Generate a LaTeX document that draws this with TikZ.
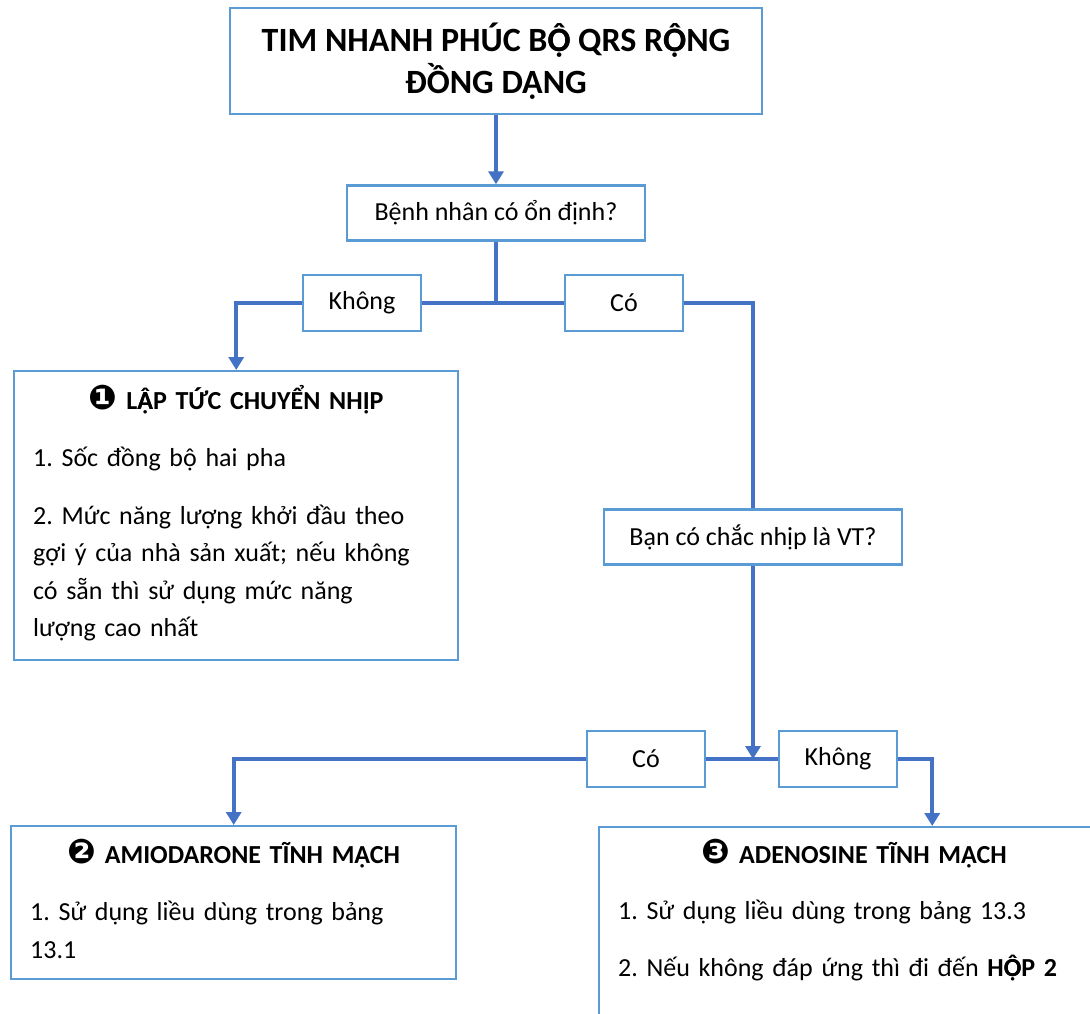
\documentclass[tikz,border=0pt]{standalone}
\usepackage{fontspec}
\setmainfont{Carlito}
\newfontfamily\dingfont{DejaVu Sans}
\usetikzlibrary{arrows.meta}
\usetikzlibrary{calc}
\tikzset{>={Triangle[width=7.5pt,length=6.5pt]}}
\definecolor{linkblue}{HTML}{4472C4}
\definecolor{edgeblue}{HTML}{5B9BD5}
% bold caps with circumflex and dot below
\newcommand\Ocircdot{\makebox[0pt][l]{Ọ}Ô}
\newcommand\Acircdot{\makebox[0pt][l]{Ạ}Â}
\newcommand\numdot[1]{{\dingfont\fontsize{17}{17}\selectfont #1}}
\tikzset{
  conn/.style={draw=linkblue, line width=2pt},
  qbox/.style={draw=edgeblue, line width=1.2pt, fill=white, minimum width=149pt, minimum height=27.5pt, font=\fontsize{13}{15}\selectfont},
  ansbox/.style={qbox, minimum width=59pt, minimum height=28pt},
  panel/.style={draw=edgeblue, line width=1.2pt, anchor=north west, align=left, inner xsep=9.5pt, font=\fontsize{13}{18.75}\selectfont\frenchspacing},
}

\begin{document}
\begin{tikzpicture}[x=0.5pt, y=-0.5pt]

\useasboundingbox (0,0) rectangle (1090,1013);

\node[draw=edgeblue, line width=1.2pt, minimum width=266pt, minimum height=53pt, align=center,
  font=\fontsize{17}{21}\selectfont\bfseries] (top) at (496,61) {TIM NHANH PHÚC B\Ocircdot{} QRS R\Ocircdot{}NG\\ĐỒNG DẠNG};

\node[qbox] (q1) at (496,213) {Bệnh nhân có ổn định?};
\node[ansbox] (no1) at (362,303) {Không};
\node[ansbox] (yes1) at (624,303) {Có};

\node[panel, text width=203pt, minimum height=144.5pt] (box1) at (13,370) {%
  \makebox[\hsize]{\bfseries\numdot{❶} L\Acircdot{}P TỨC CHUYỂN NHỊP}\\[10pt]
  1. Sốc đồng bộ hai pha\\[10pt]
  2. Mức năng lượng khởi đầu theo\\
  gợi ý của nhà sản xuất; nếu không\\
  có sẵn thì sử dụng mức năng\\
  lượng cao nhất\rule[-5pt]{0pt}{0pt}};

\node[qbox] (q2) at (753,537) {Bạn có chắc nhịp là VT?};
\node[ansbox] (yes2) at (646,759) {Có};
\node[ansbox] (no2) at (838,759) {Không};

\node[panel, text width=203.5pt, minimum height=76.5pt] (box2) at (10,825) {%
  \makebox[\hsize]{\bfseries\numdot{❷} AMIODARONE TĨNH MẠCH}\\[10pt]
  1. Sử dụng liều dùng trong bảng\\
  13.1\rule[-4pt]{0pt}{0pt}};

\node[panel, text width=236pt, inner ysep=6pt] (box3) at (598,826) {%
  \makebox[\hsize]{\bfseries\numdot{❸} ADENOSINE TĨNH MẠCH}\\[9pt]
  1. Sử dụng liều dùng trong bảng 13.3\\[10pt]
  2. Nếu không đáp ứng thì đi đến \textbf{H\Ocircdot{}P 2}\rule[-30pt]{0pt}{0pt}};

% first question
\draw[conn,->] (top) -- (q1);
\coordinate (j1) at (q1.south |- no1.center);
\draw[conn] (q1) -- (j1);
\draw[conn] (no1) -- (yes1);
\draw[conn,->] (no1.west) -| (box1.north);
\draw[conn] (yes1.east) -| (q2.north);

% second question
\coordinate (j2) at (q2.south |- yes2.center);
\draw[conn,->] (q2) -- (j2);
\draw[conn] (yes2) -- (no2);
\draw[conn,->] (yes2.west) -| (box2.north);
\draw[conn,->] (no2.east) -| ([xshift=39pt]box3.north);

\end{tikzpicture}
\end{document}
